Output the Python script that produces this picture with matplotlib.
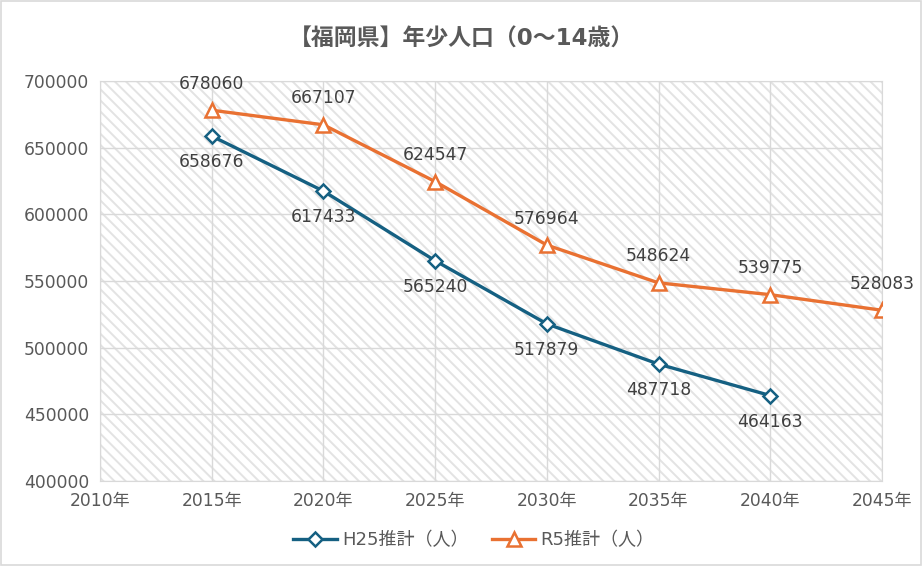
import matplotlib.pyplot as plt
from matplotlib.patches import Rectangle

plt.rcParams['font.family'] = ['DejaVu Sans', 'Noto Sans CJK JP']
plt.rcParams['hatch.linewidth'] = 1.4
plt.rcParams['hatch.color'] = '#e3e3e3'

# data
years = [2015, 2020, 2025, 2030, 2035, 2040, 2045]
h25 = [658676, 617433, 565240, 517879, 487718, 464163]
r5 = [678060, 667107, 624547, 576964, 548624, 539775, 528083]
xticks = [2010, 2015, 2020, 2025, 2030, 2035, 2040, 2045]
xlabels = [f'{y}年' for y in xticks]
yticks = [400000, 450000, 500000, 550000, 600000, 650000, 700000]

blue = '#156082'
orange = '#E97132'
gray = '#595959'

fig = plt.figure(figsize=(9.22, 5.66), dpi=100)
fig.patches.append(Rectangle((0.001, 0.001), 0.998, 0.998, transform=fig.transFigure,
                             fill=False, edgecolor='#d9d9d9', lw=1.2))
ax = fig.add_axes([0.1085, 0.150, 0.848, 0.707])

# hatched plot area
ax.add_patch(Rectangle((0, 0), 1, 1, transform=ax.transAxes, facecolor='white',
                       hatch='\\\\\\', lw=0, zorder=0))

ax.plot(years[:len(h25)], h25, color=blue, lw=2.4, marker='D', ms=7,
        mfc='white', mec=blue, mew=1.8, label='H25推計（人）', zorder=3)
ax.plot(years, r5, color=orange, lw=2.4, marker='^', ms=10,
        mfc='white', mec=orange, mew=1.8, label='R5推計（人）', zorder=3)

for x, v in zip(years, h25):
    ax.annotate(str(v), (x, v), xytext=(0, -19), textcoords='offset points',
                ha='center', va='center', fontsize=12.3, color='#404040')
for x, v in zip(years, r5):
    ax.annotate(str(v), (x, v), xytext=(0, 19), textcoords='offset points',
                ha='center', va='center', fontsize=12.3, color='#404040')

ax.set_xlim(2010, 2045)
ax.set_ylim(400000, 700000)
ax.set_xticks(xticks)
ax.set_xticklabels(xlabels)
ax.set_yticks(yticks)
ax.tick_params(length=0, labelsize=12.3, labelcolor=gray, pad=8)
ax.grid(True, color='#d9d9d9', lw=1)
ax.set_axisbelow(True)
for s in ax.spines.values():
    s.set_color('#d9d9d9')

fig.text(0.5, 0.93, '【福岡県】年少人口（0～14歳）', ha='center', va='center',
         fontsize=16.5, fontweight='bold', color=gray)

fig.legend(loc='center', bbox_to_anchor=(0.514, 0.045), ncol=2, frameon=False,
           fontsize=13, labelcolor=gray, handlelength=2.4, columnspacing=1.3,
           handletextpad=0.3)

fig.savefig('out.png', dpi=100)
